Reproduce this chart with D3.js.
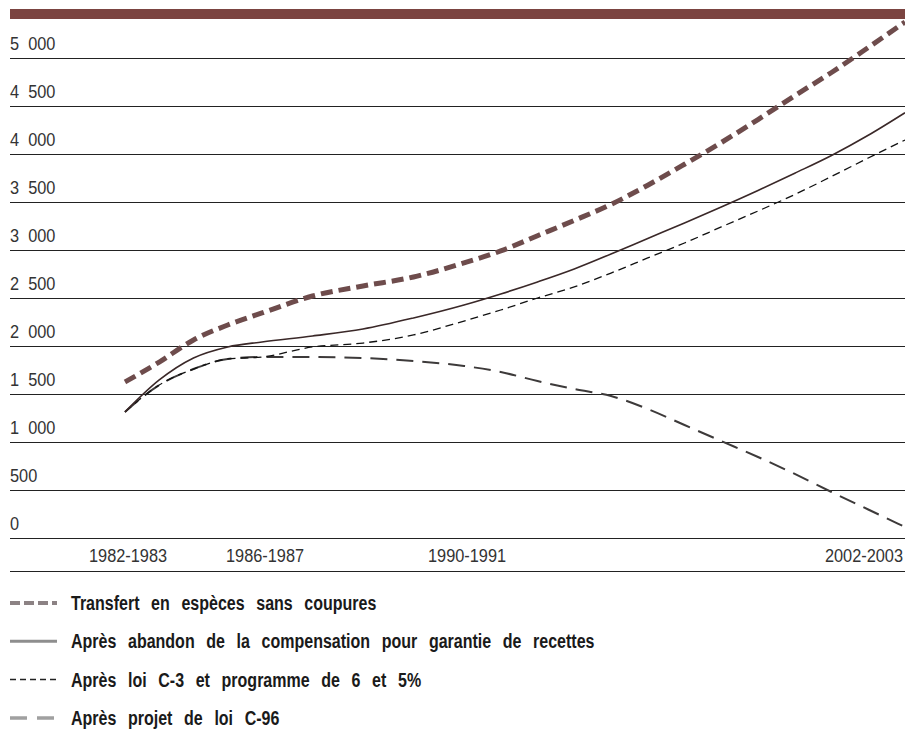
<!DOCTYPE html>
<html>
<head>
<meta charset="utf-8">
<script src="https://cdn.jsdelivr.net/npm/d3@7"></script>
<style>
  body { margin: 0; background: #fff; }
  svg { display: block; }
  text { font-family: "Liberation Sans", Arial, sans-serif; }
</style>
</head>
<body>
<svg width="905" height="754"></svg>
<script>
// fiscal years (start year), 1982-1983 ... 2002-2003
const years = [1982, 1983, 1984, 1985, 1986, 1987, 1988, 1989, 1990, 1991, 1992,
  1993, 1994, 1995, 1996, 1997, 1998, 1999, 2000, 2001, 2002]

const transfertSansCoupures = [1625, 1833, 2063, 2219, 2344, 2521, 2625, 2719, 2865, 2990, 3149,
  3308, 3475, 3675, 3893, 4119, 4359, 4607, 4849, 5109, 5375]
const apresAbandonGarantie = [1313, 1646, 1875, 1990, 2042, 2104, 2177, 2292, 2427, 2542, 2667,
  2802, 2958, 3120, 3281, 3448, 3620, 3800, 3985, 4195, 4430]
const apresLoiC3 = [1313, 1594, 1760, 1865, 1885, 1990, 2031, 2115, 2260, 2375, 2500,
  2615, 2760, 2917, 3073, 3240, 3406, 3578, 3766, 3958, 4146]
const apresProjetC96 = [1313, 1594, 1760, 1865, 1885, 1885, 1875, 1844, 1792, 1729, 1635,
  1552, 1479, 1344, 1177, 1010, 844, 667, 479, 297, 115]

const yTicks = [0, 500, 1000, 1500, 2000, 2500, 3000, 3500, 4000, 4500, 5000]
const xTickYears = [1982, 1986, 1990, 2002]
const xTickLabels = ['1982-1983', '1986-1987', '1990-1991', '2002-2003']

const legendLabels = [
  'Transfert en espèces sans coupures',
  'Après abandon de la compensation pour garantie de recettes',
  'Après loi C-3 et programme de 6 et 5%',
  'Après projet de loi C-96'
]

const svg = d3.select('svg')
const left = 10, right = 905
const narrow = 0.86 // the print uses a condensed face

// label positions on the original axis are uneven, so the scale follows them
const x = d3.scaleLinear()
  .domain([1982, 1986, 1990, 2002])
  .range([125, 262, 464, 905])
const y = d3.scaleLinear()
  .domain([0, 5000])
  .range([538, 58])

const fr = d3.formatLocale({ decimal: ',', thousands: '\u2007', grouping: [3], currency: ['', ' $'] })
const fmt = fr.format(',d')

// maroon band on top
svg.append('rect')
  .attr('x', left).attr('y', 9)
  .attr('width', right - left).attr('height', 10)
  .attr('fill', '#7b4441')

// horizontal rules + value labels
const grid = svg.append('g')
grid.selectAll('line')
  .data(yTicks)
  .enter()
  .append('line')
  .attr('x1', left).attr('x2', right)
  .attr('y1', d => y(d)).attr('y2', d => y(d))
  .attr('stroke', '#222')
  .attr('stroke-width', 1)
  .attr('shape-rendering', 'crispEdges')

grid.selectAll('text')
  .data(yTicks)
  .enter()
  .append('text')
  .attr('transform', d => `translate(${left}, ${y(d) - 8}) scale(${narrow}, 1)`)
  .attr('font-size', 19)
  .attr('fill', '#333')
  .text(d => fmt(d))

// bottom rule under the year labels
svg.append('line')
  .attr('x1', left).attr('x2', right)
  .attr('y1', 571).attr('y2', 571)
  .attr('stroke', '#222')
  .attr('stroke-width', 1)
  .attr('shape-rendering', 'crispEdges')

const last = xTickYears.length - 1
svg.append('g')
  .selectAll('text')
  .data(xTickYears)
  .enter()
  .append('text')
  .attr('transform', (d, i) => `translate(${i === last ? x(d) - 2 : x(d) + 3}, 562) scale(${narrow}, 1)`)
  .attr('text-anchor', (d, i) => i === last ? 'end' : 'middle')
  .attr('font-size', 19)
  .attr('fill', '#333')
  .text((d, i) => xTickLabels[i])

// series drawn back to front
const series = [
  { values: apresProjetC96, color: '#3d3a3a', width: 2, dash: '17,9' },
  { values: apresLoiC3, color: '#111', width: 1.3, dash: '8,5' },
  { values: apresAbandonGarantie, color: '#3a2828', width: 1.6, dash: null },
  { values: transfertSansCoupures, color: '#6e4c4c', width: 5, dash: '12,6' }
]

const line = d3.line()
  .x((d, i) => x(years[i]))
  .y(d => y(d))
  .curve(d3.curveMonotoneX)

svg.append('g')
  .selectAll('path')
  .data(series)
  .enter()
  .append('path')
  .attr('d', d => line(d.values))
  .attr('fill', 'none')
  .attr('stroke', d => d.color)
  .attr('stroke-width', d => d.width)
  .attr('stroke-dasharray', d => d.dash)

// legend, swatches are light grey like in the print
const swatches = [
  { color: '#8c8284', width: 4, dash: '10,4' },
  { color: '#8e8e8e', width: 3, dash: null },
  { color: '#222', width: 1.5, dash: '6,4' },
  { color: '#a0a0a0', width: 3.5, dash: '17,10' }
]

const legend = svg.append('g')
  .selectAll('g')
  .data(legendLabels)
  .enter()
  .append('g')
  .attr('transform', (d, i) => `translate(0, ${603 + i * 38.3})`)

legend.append('line')
  .attr('x1', 10).attr('x2', 57)
  .attr('y1', 0).attr('y2', 0)
  .attr('stroke', (d, i) => swatches[i].color)
  .attr('stroke-width', (d, i) => swatches[i].width)
  .attr('stroke-dasharray', (d, i) => swatches[i].dash)

legend.append('text')
  .attr('transform', `translate(71, 7) scale(0.8, 1)`)
  .attr('font-size', 20)
  .attr('font-weight', 'bold')
  .attr('word-spacing', 9)
  .attr('fill', '#1a1a1a')
  .text(d => d)
</script>
</body>
</html>
